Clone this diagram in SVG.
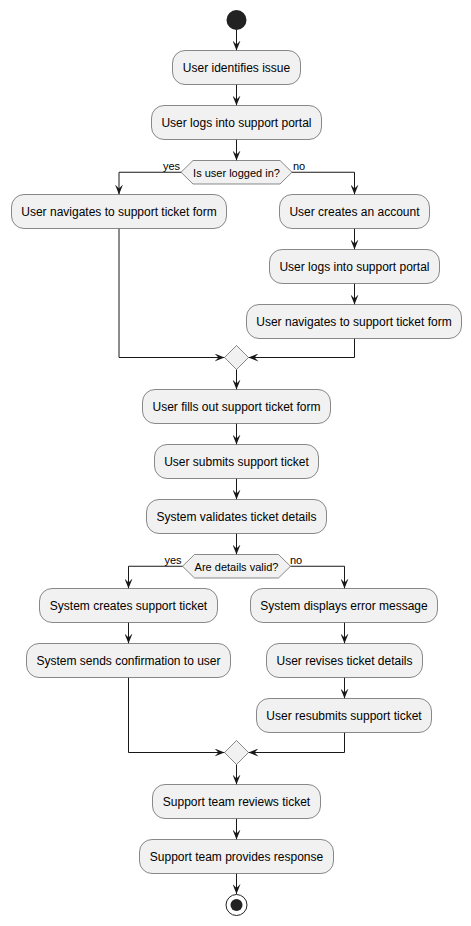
<svg xmlns="http://www.w3.org/2000/svg" width="471" height="926" viewBox="0 0 471 926">
<style>
.box{fill:#F1F1F1;stroke:#181818;stroke-width:0.5}
.t{font-family:"Liberation Sans",Arial,sans-serif;font-size:12px;fill:#000;text-anchor:middle}
.d{font-family:"Liberation Sans",Arial,sans-serif;font-size:11px;fill:#000;text-anchor:middle}
.l{font-family:"Liberation Sans",Arial,sans-serif;font-size:11px;fill:#000}
.c{fill:none;stroke:#181818;stroke-width:1;marker-end:url(#ah)}
</style>
<defs>
<marker id="ah" viewBox="0 0 10 8" refX="10" refY="4" markerWidth="10" markerHeight="8" markerUnits="userSpaceOnUse" orient="auto">
<path d="M0,0 L10,4 L0,8 L4,4 Z" fill="#181818"/>
</marker>
</defs>
<rect width="471" height="926" fill="#FFFFFF"/>
<g id="connectors">
<path class="c" d="M236.5,30 V50.5"/>
<path class="c" d="M236.5,84.5 V105.5"/>
<path class="c" d="M236.5,139.5 V160.5"/>
<path class="c" d="M181,172.25 H119 V194.5"/>
<path class="c" d="M292,172.25 H354.5 V194.5"/>
<path class="c" d="M354.5,228.5 V249.5"/>
<path class="c" d="M354.5,283.5 V304.5"/>
<path class="c" d="M119,228.5 V357.5 H224.5"/>
<path class="c" d="M354.5,338.5 V357.5 H248.5"/>
<path class="c" d="M236.5,369.5 V389.5"/>
<path class="c" d="M236.5,423.5 V444.5"/>
<path class="c" d="M236.5,478.5 V499.5"/>
<path class="c" d="M236.5,533.5 V554.5"/>
<path class="c" d="M182.5,566.25 H128.5 V588.5"/>
<path class="c" d="M290.5,566.25 H344.5 V588.5"/>
<path class="c" d="M128.5,622.5 V643.5"/>
<path class="c" d="M344.5,622.5 V643.5"/>
<path class="c" d="M344.5,677.5 V698.5"/>
<path class="c" d="M128.5,677.5 V752.5 H224.5"/>
<path class="c" d="M344.5,732.5 V752.5 H248.5"/>
<path class="c" d="M236.5,764.5 V784.5"/>
<path class="c" d="M236.5,818.5 V839.5"/>
<path class="c" d="M236.5,873.5 V894"/>
<text class="l" x="180" y="169.5" text-anchor="end">yes</text>
<text class="l" x="293" y="169.5">no</text>
<text class="l" x="181.5" y="563.5" text-anchor="end">yes</text>
<text class="l" x="290" y="563.5">no</text>
</g>
<g id="start"><circle cx="236.5" cy="20" r="10" fill="#222222"/></g>
<g id="n1"><rect class="box" x="172.5" y="50.5" width="128" height="34" rx="12.5"/><text class="t" x="236.5" y="72">User identifies issue</text></g>
<g id="n2"><rect class="box" x="151.5" y="105.5" width="170" height="34" rx="12.5"/><text class="t" x="236.5" y="127">User logs into support portal</text></g>
<g id="d1"><polygon class="box" points="181,172.25 193,160.5 280,160.5 292,172.25 280,184 193,184"/><text class="d" x="236.5" y="176.5">Is user logged in?</text></g>
<g id="n3"><rect class="box" x="11.5" y="194.5" width="215" height="34" rx="12.5"/><text class="t" x="119" y="216">User navigates to support ticket form</text></g>
<g id="n4"><rect class="box" x="279.5" y="194.5" width="150" height="34" rx="12.5"/><text class="t" x="354.5" y="216">User creates an account</text></g>
<g id="n5"><rect class="box" x="269.5" y="249.5" width="170" height="34" rx="12.5"/><text class="t" x="354.5" y="271">User logs into support portal</text></g>
<g id="n6"><rect class="box" x="246.5" y="304.5" width="215" height="34" rx="12.5"/><text class="t" x="354" y="326">User navigates to support ticket form</text></g>
<g id="m1"><polygon class="box" points="236.5,345.5 248.5,357.5 236.5,369.5 224.5,357.5"/></g>
<g id="n7"><rect class="box" x="142.5" y="389.5" width="188" height="34" rx="12.5"/><text class="t" x="236.5" y="411">User fills out support ticket form</text></g>
<g id="n8"><rect class="box" x="154.5" y="444.5" width="164" height="34" rx="12.5"/><text class="t" x="236.5" y="466">User submits support ticket</text></g>
<g id="n9"><rect class="box" x="146.5" y="499.5" width="180" height="34" rx="12.5"/><text class="t" x="236.5" y="521">System validates ticket details</text></g>
<g id="d2"><polygon class="box" points="182.5,566.25 194.5,554.5 278.5,554.5 290.5,566.25 278.5,578 194.5,578"/><text class="d" x="236.5" y="570.5">Are details valid?</text></g>
<g id="n10"><rect class="box" x="39.5" y="588.5" width="178" height="34" rx="12.5"/><text class="t" x="128.5" y="610">System creates support ticket</text></g>
<g id="n11"><rect class="box" x="250.5" y="588.5" width="187" height="34" rx="12.5"/><text class="t" x="344" y="610">System displays error message</text></g>
<g id="n12"><rect class="box" x="26.5" y="643.5" width="204" height="34" rx="12.5"/><text class="t" x="128.5" y="665">System sends confirmation to user</text></g>
<g id="n13"><rect class="box" x="266.5" y="643.5" width="156" height="34" rx="12.5"/><text class="t" x="344.5" y="665">User revises ticket details</text></g>
<g id="n14"><rect class="box" x="256.5" y="698.5" width="175" height="34" rx="12.5"/><text class="t" x="344" y="720">User resubmits support ticket</text></g>
<g id="m2"><polygon class="box" points="236.5,740.5 248.5,752.5 236.5,764.5 224.5,752.5"/></g>
<g id="n15"><rect class="box" x="152.5" y="784.5" width="168" height="34" rx="12.5"/><text class="t" x="236.5" y="806">Support team reviews ticket</text></g>
<g id="n16"><rect class="box" x="139.5" y="839.5" width="194" height="34" rx="12.5"/><text class="t" x="236.5" y="861">Support team provides response</text></g>
<g id="end"><circle cx="236.5" cy="905" r="10.5" fill="none" stroke="#222222" stroke-width="1"/><circle cx="236.5" cy="905" r="6" fill="#222222"/></g>
</svg>
